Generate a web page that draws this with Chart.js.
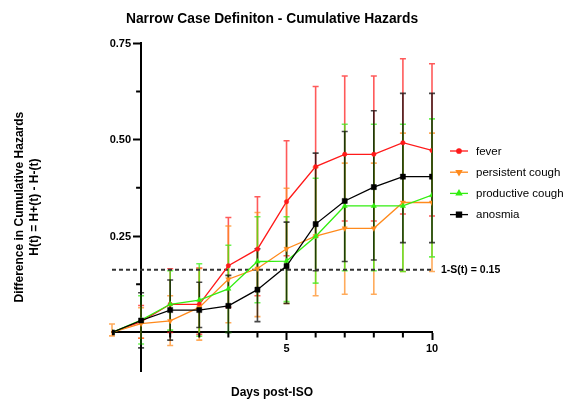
<!DOCTYPE html>
<html><head><meta charset="utf-8">
<script src="https://cdn.jsdelivr.net/npm/chart.js@4.4.1/dist/chart.umd.min.js"></script>
<style>html,body{margin:0;padding:0;background:#fff;overflow:hidden}#wrap{width:566px;height:403px}</style>
</head><body><div id="wrap"><canvas id="c" width="566" height="403"></canvas></div>
<script>
// ---------- data ----------
const days = [-1, 0, 1, 2, 3, 4, 5, 6, 7, 8, 9, 10];
const seriesNames = ['fever', 'persistent cough', 'productive cough', 'anosmia'];

const feverY  = [0, 0.028, 0.073, 0.073, 0.173, 0.216, 0.339, 0.430, 0.462, 0.462, 0.492, 0.472];
const feverLo = [0, -0.015, 0.000, -0.005, 0.065, 0.095, 0.199, 0.249, 0.289, 0.289, 0.307, 0.302];
const feverHi = [0, 0.070, 0.165, 0.167, 0.298, 0.352, 0.497, 0.638, 0.665, 0.665, 0.710, 0.697];

const coughY  = [0, 0.023, 0.030, 0.065, 0.138, 0.166, 0.217, 0.250, 0.270, 0.270, 0.337, 0.337];
const coughLo = [-0.009, -0.015, -0.034, -0.020, 0.025, 0.041, 0.075, 0.095, 0.099, 0.099, 0.158, 0.158];
const coughHi = [0.022, 0.064, 0.095, 0.166, 0.276, 0.311, 0.374, 0.428, 0.439, 0.439, 0.517, 0.517];

const prodY   = [0, 0.032, 0.073, 0.084, 0.113, 0.184, 0.185, 0.249, 0.328, 0.328, 0.328, 0.356];
const prodLo  = [0, -0.030, 0.006, -0.010, 0.000, 0.077, 0.080, 0.128, 0.160, 0.160, 0.158, 0.196];
const prodHi  = [0, 0.095, 0.160, 0.178, 0.226, 0.300, 0.300, 0.400, 0.540, 0.540, 0.540, 0.554];

const anosY   = [0, 0.031, 0.058, 0.058, 0.069, 0.111, 0.172, 0.281, 0.341, 0.377, 0.404, 0.404];
const anosLo  = [0, -0.040, -0.020, 0.013, 0.000, 0.028, 0.075, 0.160, 0.184, 0.188, 0.233, 0.233];
const anosHi  = [0, 0.103, 0.136, 0.130, 0.148, 0.217, 0.286, 0.465, 0.521, 0.575, 0.620, 0.620];

const thresholdValue = 0.1625;
const thresholdLabel = '1-S(t) = 0.15';
const yMajorTicks = [0.25, 0.50, 0.75];
const yMinorTicks = [0.125, 0.375, 0.625];
const xMajorTicks = [5, 10];
const xMinorTicks = [1, 2, 3, 4, 6, 7, 8, 9];

const titleText = 'Narrow Case Definiton - Cumulative Hazards';
const yTitleLines = ['Difference in Cumulative Hazards', 'H(t) = H+(t) - H-(t)'];
const xTitleText = 'Days post-ISO';

// ---------- styles ----------
const FONT = "'Liberation Sans', Arial, Helvetica, sans-serif";
const colors = ['#ff1a1a', '#ff8a1c', '#33ee11', '#000000'];
const pointStyles = [
  {pointStyle: 'circle', radius: 2.2, rotation: 0},
  {pointStyle: 'triangle', radius: 3, rotation: 180},
  {pointStyle: 'triangle', radius: 3, rotation: 0},
  {pointStyle: 'rect', radius: 3.6, rotation: 0}
];
const seriesY = [feverY, coughY, prodY, anosY];
const seriesLo = [feverLo, coughLo, prodLo, anosLo];
const seriesHi = [feverHi, coughHi, prodHi, anosHi];

const toXY = arr => days.map((d, i) => ({x: d, y: arr[i]}));

const datasets = seriesNames.map((name, k) => ({
  label: name,
  data: toXY(seriesY[k]),
  borderColor: colors[k],
  backgroundColor: colors[k],
  borderWidth: 1.3,
  pointStyle: pointStyles[k].pointStyle,
  pointRadius: pointStyles[k].radius,
  pointRotation: pointStyles[k].rotation,
  pointBorderWidth: 0.5,
  pointHoverRadius: pointStyles[k].radius,
  tension: 0,
  fill: false,
  order: 4 - k
}));
datasets.push({
  label: 'threshold',
  data: [{x: days[0], y: thresholdValue}, {x: days[days.length - 1], y: thresholdValue}],
  borderColor: '#333333',
  borderWidth: 2,
  borderDash: [4, 3],
  pointRadius: 0,
  fill: false,
  order: 10
});

// ---------- plugins ----------
const errorBars = {
  id: 'errorBars',
  beforeDatasetsDraw(chart) {
    const {ctx, scales: {x, y}} = chart;
    ctx.save();
    for (let k = 0; k < seriesNames.length; k++) {
      ctx.strokeStyle = colors[k];
      ctx.globalAlpha = 0.72;
      ctx.lineWidth = 1.6;
      days.forEach((d, i) => {
        const px = x.getPixelForValue(d);
        const pl = y.getPixelForValue(seriesLo[k][i]);
        const ph = y.getPixelForValue(seriesHi[k][i]);
        if (Math.abs(pl - ph) < 1) return;
        ctx.beginPath();
        ctx.moveTo(px, pl); ctx.lineTo(px, ph);
        ctx.moveTo(px - 3, pl); ctx.lineTo(px + 3, pl);
        ctx.moveTo(px - 3, ph); ctx.lineTo(px + 3, ph);
        ctx.stroke();
      });
    }
    ctx.restore();
  }
};

const decorations = {
  id: 'decorations',
  afterDraw(chart) {
    const {ctx, scales: {x, y}, chartArea} = chart;
    ctx.save();
    // minor ticks
    ctx.strokeStyle = '#000';
    ctx.lineWidth = 2;
    const x0 = x.getPixelForValue(0), y0 = y.getPixelForValue(0);
    ctx.beginPath();
    xMinorTicks.forEach(v => { const p = x.getPixelForValue(v); ctx.moveTo(p, y0); ctx.lineTo(p, y0 + 5); });
    yMinorTicks.forEach(v => { const p = y.getPixelForValue(v); ctx.moveTo(x0, p); ctx.lineTo(x0 - 5, p); });
    ctx.stroke();

    ctx.fillStyle = '#000';
    // y tick labels, taken from the scale's own ticks
    ctx.font = 'bold 11px ' + FONT;
    ctx.textAlign = 'right';
    ctx.textBaseline = 'middle';
    y.ticks.forEach(t => {
      ctx.fillText(Number(t.value).toFixed(2), x0 - 10, y.getPixelForValue(t.value) + 0.5);
    });

    // threshold label
    ctx.font = 'bold 10.5px ' + FONT;
    ctx.textAlign = 'left';
    ctx.fillText(thresholdLabel, x.getPixelForValue(days[days.length - 1]) + 9, y.getPixelForValue(thresholdValue));

    // x title
    ctx.font = 'bold 12px ' + FONT;
    ctx.textAlign = 'center';
    ctx.fillText(xTitleText, (chartArea.left + chartArea.right) / 2, 393);

    // y title (rotated)
    ctx.save();
    ctx.translate(0, (chartArea.top + chartArea.bottom) / 2);
    ctx.rotate(-Math.PI / 2);
    ctx.font = 'bold 12px ' + FONT;
    ctx.textAlign = 'center';
    ctx.fillText(yTitleLines[0], 0, 20);
    ctx.fillText(yTitleLines[1], 0, 35);
    ctx.restore();

    // legend
    const lx = chartArea.right + 18;
    ctx.font = '11.5px ' + FONT;
    ctx.textAlign = 'left';
    seriesNames.forEach((name, k) => {
      const ry = 151 + k * 21.2;
      ctx.strokeStyle = colors[k];
      ctx.lineWidth = 1.3;
      ctx.beginPath(); ctx.moveTo(lx, ry); ctx.lineTo(lx + 18, ry); ctx.stroke();
      ctx.fillStyle = colors[k];
      Chart.helpers.drawPoint(ctx, {pointStyle: pointStyles[k].pointStyle, radius: pointStyles[k].radius,
        rotation: pointStyles[k].rotation, borderWidth: 0.5}, lx + 9, ry);
      ctx.fillStyle = '#000';
      ctx.fillText(name, lx + 26, ry + 0.5);
    });
    ctx.restore();
  }
};

new Chart(document.getElementById('c'), {
  type: 'line',
  data: {datasets},
  plugins: [errorBars, decorations],
  options: {
    responsive: false,
    devicePixelRatio: 1,
    animation: false,
    events: [],
    layout: {padding: {left: 112, right: 134, top: 0, bottom: 32}},
    plugins: {
      legend: {display: false},
      tooltip: {enabled: false},
      title: {
        display: true,
        text: titleText,
        color: '#000',
        font: {family: FONT, size: 13.8, weight: 'bold', lineHeight: 1.2},
        padding: {top: 11, bottom: 15.7}
      }
    },
    scales: {
      x: {
        type: 'linear',
        min: -1, max: 10,
        position: {y: 0},
        afterBuildTicks: s => { s.ticks = xMajorTicks.map(v => ({value: v})); },
        grid: {drawOnChartArea: false, drawTicks: true, tickLength: 7, tickWidth: 2, tickColor: '#000'},
        border: {display: true, color: '#000', width: 2},
        ticks: {color: '#000', font: {family: FONT, size: 11, weight: 'bold'}, padding: 3, maxRotation: 0, autoSkip: false}
      },
      y: {
        type: 'linear',
        min: -0.1, max: 0.75,
        position: {x: 0},
        afterBuildTicks: s => { s.ticks = yMajorTicks.map(v => ({value: v})); },
        grid: {drawOnChartArea: false, drawTicks: true, tickLength: 7, tickWidth: 2, tickColor: '#000'},
        border: {display: true, color: '#000', width: 2},
        ticks: {display: false, color: '#000', font: {family: FONT, size: 11, weight: 'bold'}, autoSkip: false}
      }
    }
  }
});
</script>
</body></html>
